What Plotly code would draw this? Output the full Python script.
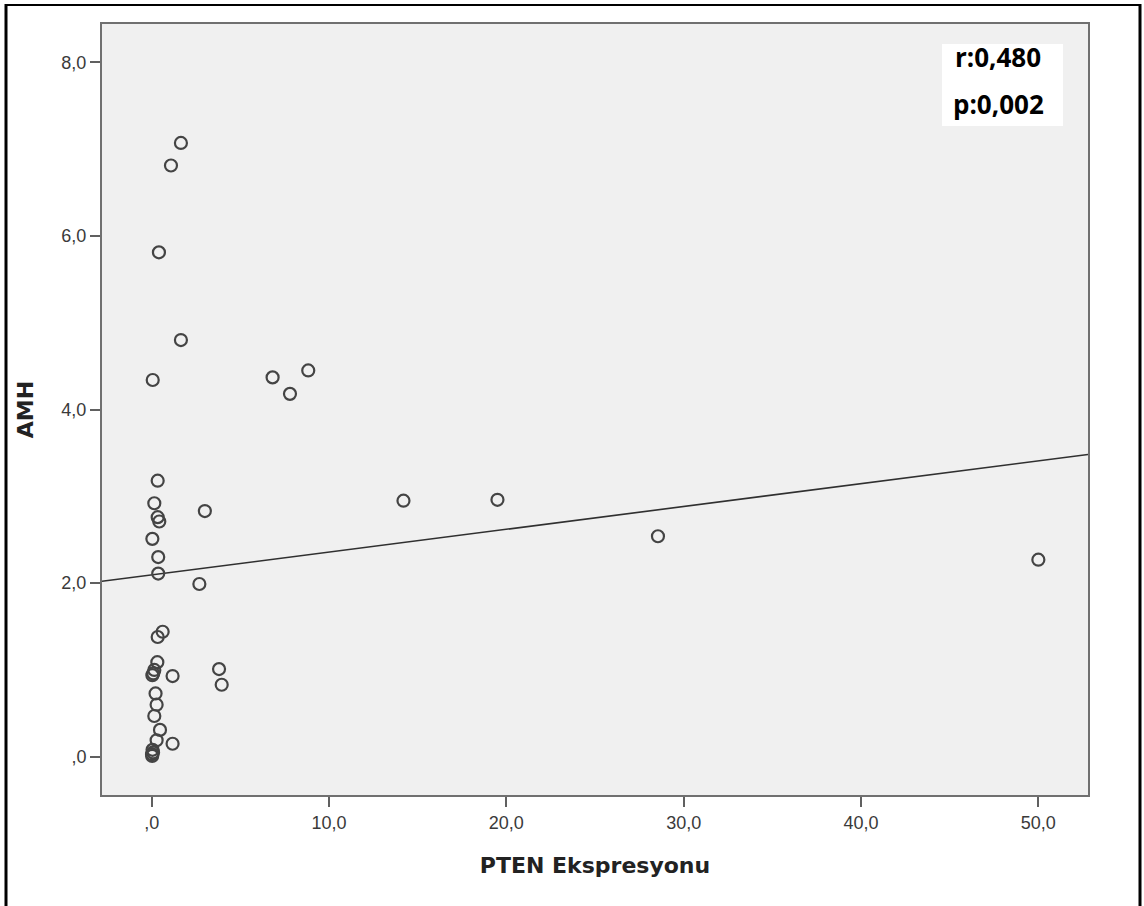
import numpy as np
import plotly.graph_objects as go

# ---- data ----
pten = [1.65, 1.09, 0.41, 1.65, 0.06, 6.82, 7.80, 8.83,
        0.34, 0.15, 0.34, 0.43, 3.00, 0.04, 0.37, 0.37, 2.69,
        14.20, 19.50, 28.55, 50.00,
        0.62, 0.34, 0.32, 0.15, 0.09, 0.04, 1.18, 3.80, 3.95,
        0.22, 0.28, 0.15, 0.47, 0.28, 1.18,
        0.05, 0.02, 0.08, 0.03]
amh = [7.07, 6.81, 5.81, 4.80, 4.34, 4.37, 4.18, 4.45,
       3.18, 2.92, 2.76, 2.71, 2.83, 2.51, 2.30, 2.11, 1.99,
       2.95, 2.96, 2.54, 2.27,
       1.44, 1.38, 1.09, 1.00, 0.96, 0.94, 0.93, 1.01, 0.83,
       0.73, 0.60, 0.47, 0.31, 0.19, 0.15,
       0.08, 0.03, 0.05, 0.01]

x_ticks = [0, 10, 20, 30, 40, 50]
x_tick_text = [",0", "10,0", "20,0", "30,0", "40,0", "50,0"]
y_ticks = [0, 2, 4, 6, 8]
y_tick_text = [",0", "2,0", "4,0", "6,0", "8,0"]
x_range = [-2.8, 52.8]
y_range = [-0.44, 8.44]
stats_lines = ["r:0,480", "p:0,002"]

# ---- figure geometry (pixels) ----
W, H = 1144, 906
L, R, T, B = 102, 1088, 24, 795


def px(x):
    return (x - L) / (R - L)


def py(y):
    return (B - y) / (B - T)


slope, intercept = np.polyfit(np.array(pten), np.array(amh), 1)
line_x = np.array(x_range)
line_y = intercept + slope * line_x

fig = go.Figure()
fig.add_trace(go.Scatter(
    x=line_x, y=line_y, mode="lines",
    line=dict(color="#303030", width=1.6),
    hoverinfo="skip", showlegend=False,
))
fig.add_trace(go.Scatter(
    x=pten, y=amh, mode="markers",
    marker=dict(symbol="circle-open", size=12, color="#444444",
                line=dict(width=2.2, color="#444444")),
    showlegend=False,
))

axis_common = dict(
    showline=True, linecolor="#707070", linewidth=2, mirror=True,
    ticks="outside", ticklen=10, tickwidth=2, tickcolor="#606060",
    showgrid=False, zeroline=False,
    tickfont=dict(family="Liberation Sans, Arial", size=18, color="#3a3a3a"),
    title_font=dict(family="DejaVu Sans", size=22, color="#222222"),
)

fig.update_xaxes(range=x_range, tickvals=x_ticks, ticktext=x_tick_text,
                 title_text="<b>PTEN Ekspresyonu</b>", title_standoff=26,
                 **axis_common)
fig.update_yaxes(range=y_range, tickvals=y_ticks, ticktext=y_tick_text,
                 title_text="<b>AMH</b>", title_standoff=22,
                 **axis_common)

shapes = [
    # white box behind the statistics
    dict(type="rect", xref="paper", yref="paper",
         x0=px(942), x1=px(1063), y0=py(126), y1=py(44),
         fillcolor="white", line=dict(width=0), layer="above"),
    # outer black frame
    dict(type="line", xref="paper", yref="paper",
         x0=px(6), x1=px(6), y0=py(4), y1=py(H + 5),
         line=dict(color="black", width=3)),
    dict(type="line", xref="paper", yref="paper",
         x0=px(5), x1=px(1141), y0=py(5), y1=py(5),
         line=dict(color="black", width=2)),
    dict(type="line", xref="paper", yref="paper",
         x0=px(1140), x1=px(1140), y0=py(4), y1=py(H + 5),
         line=dict(color="black", width=3)),
]

annotations = [
    dict(text=f"<b>{stats_lines[0]}</b>", xref="paper", yref="paper",
         x=px(998), y=py(57), showarrow=False, xanchor="center", yanchor="middle",
         font=dict(family="Open Sans", size=26, color="black")),
    dict(text=f"<b>{stats_lines[1]}</b>", xref="paper", yref="paper",
         x=px(998), y=py(104), showarrow=False, xanchor="center", yanchor="middle",
         font=dict(family="Open Sans", size=26, color="black")),
]

fig.update_layout(
    width=W, height=H,
    margin=dict(l=L, r=W - R, t=T, b=H - B, pad=0),
    paper_bgcolor="white", plot_bgcolor="#f0f0f0",
    shapes=shapes, annotations=annotations,
    showlegend=False,
)

fig.write_html("out.html", config={"displayModeBar": False},
               post_script="document.body.style.margin='0';document.body.style.overflow='hidden';")
